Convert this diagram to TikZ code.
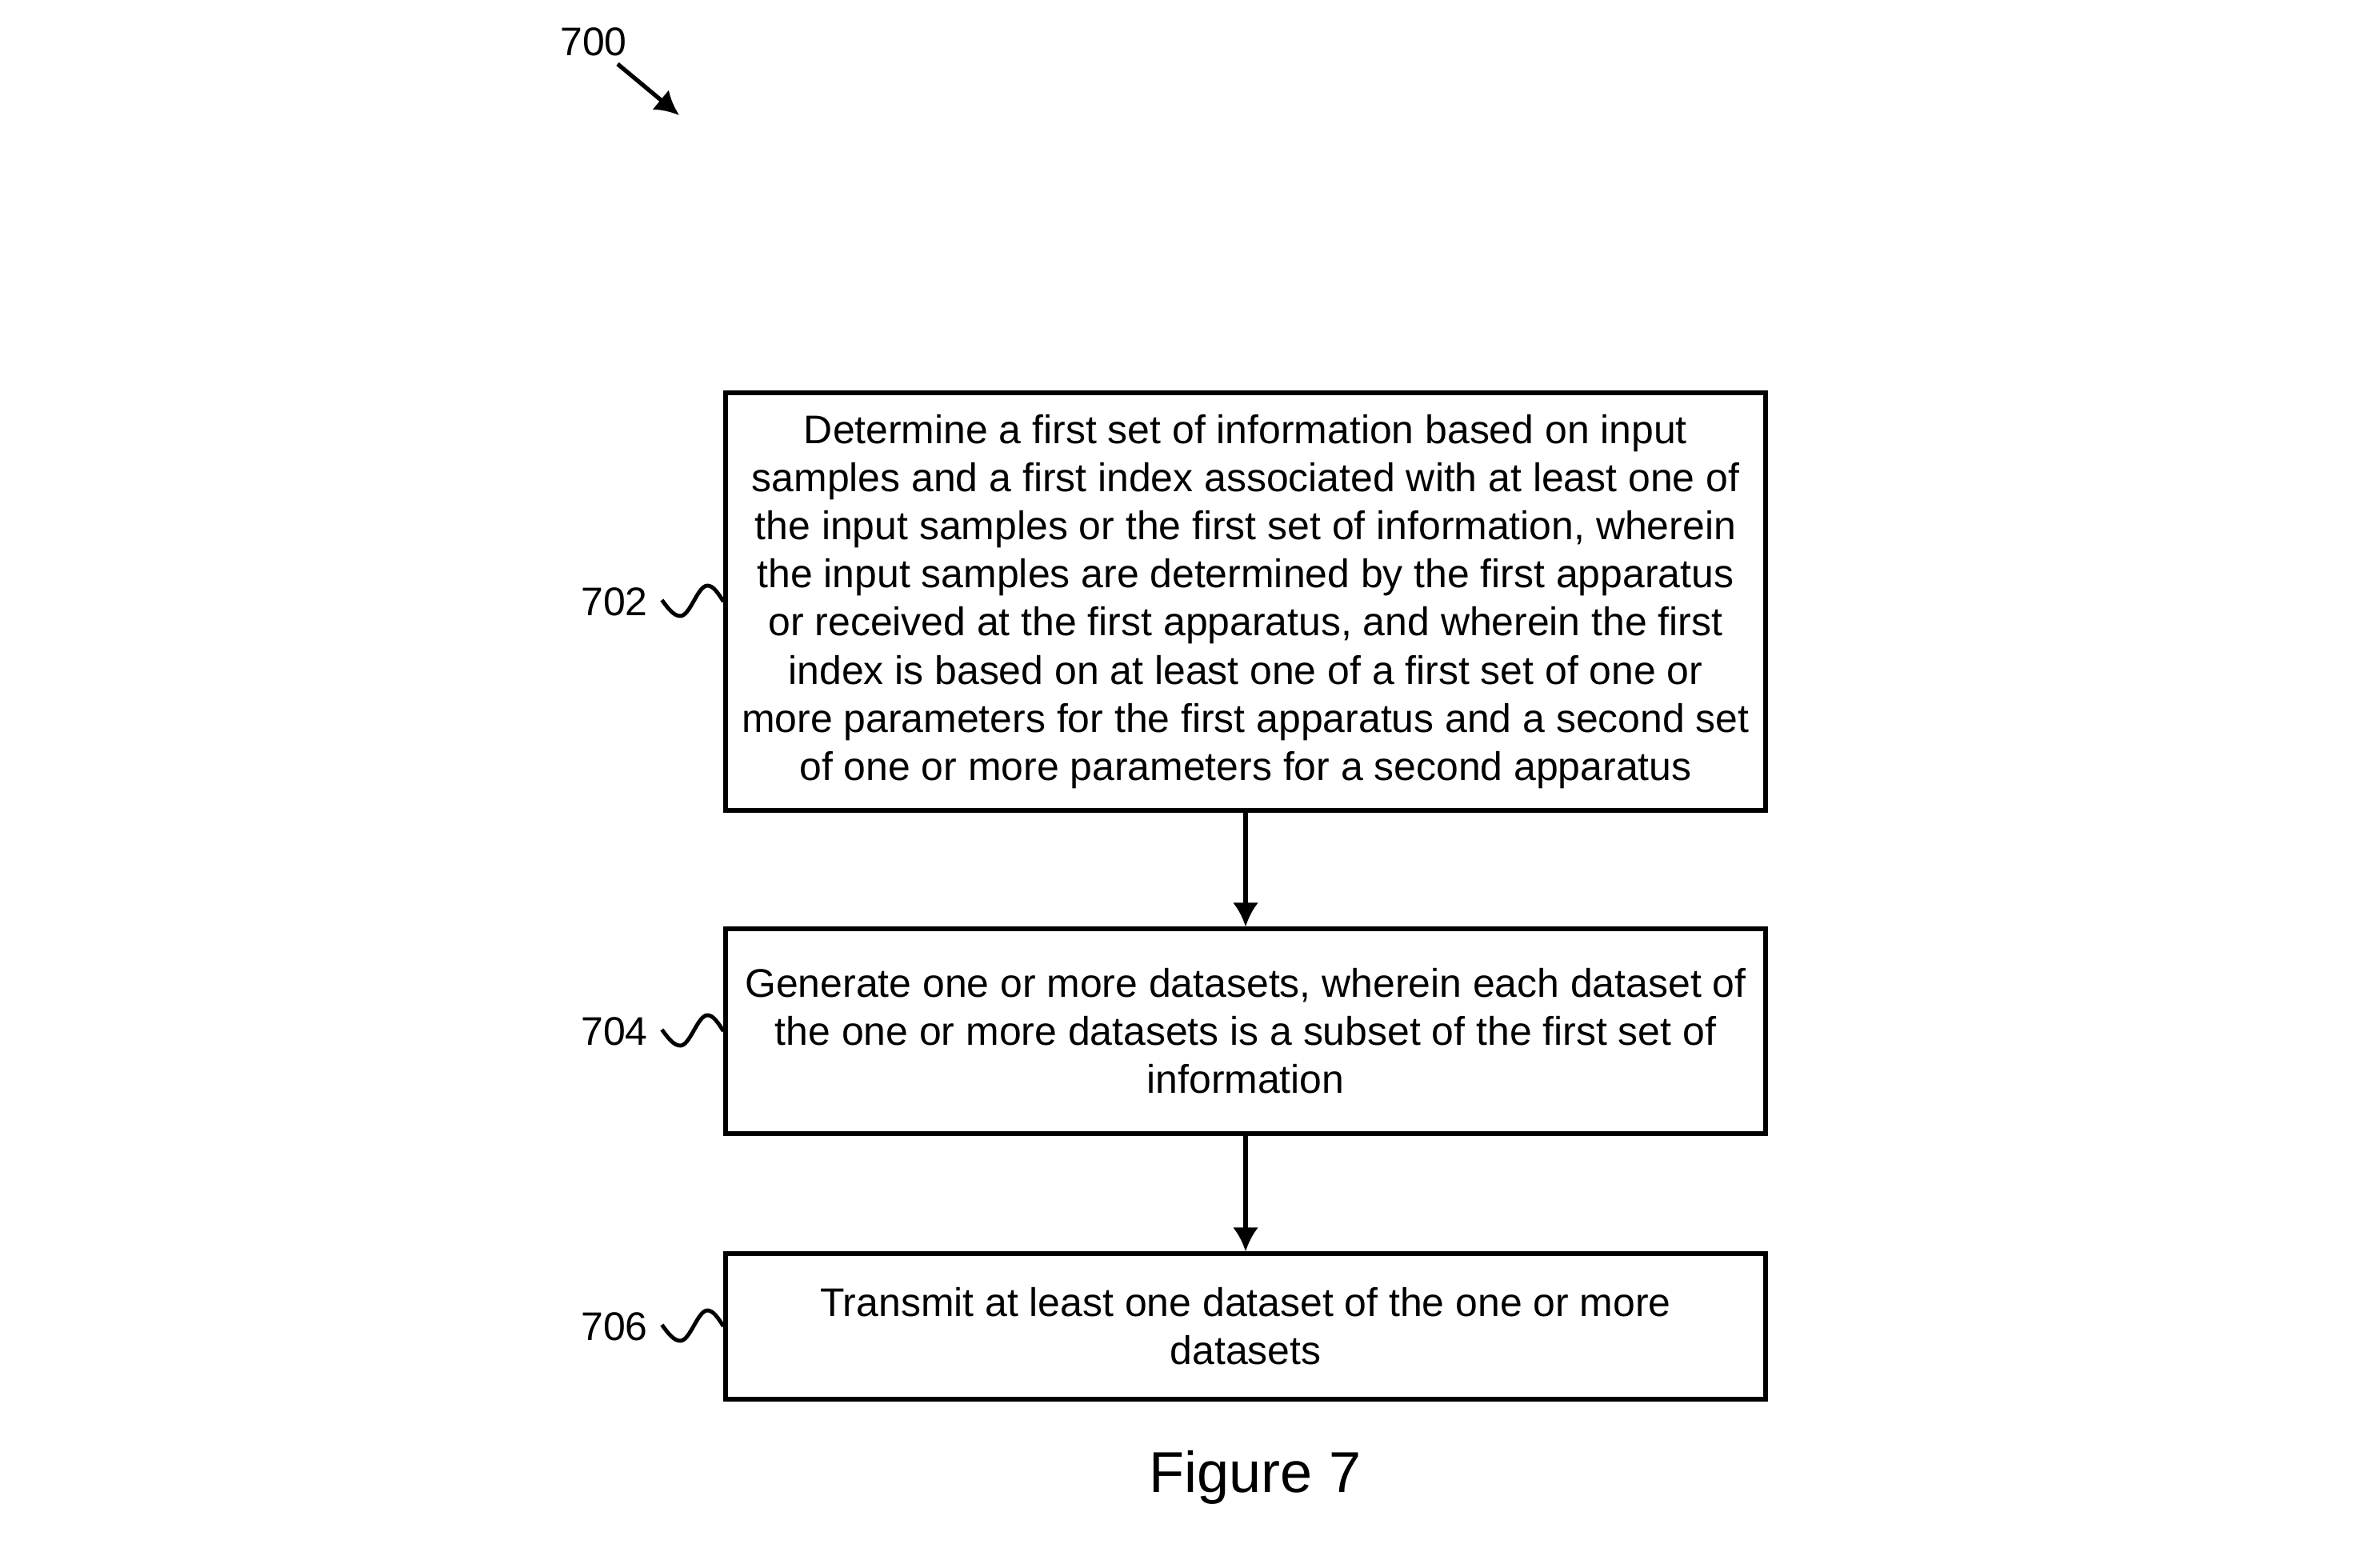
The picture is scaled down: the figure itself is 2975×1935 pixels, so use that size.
\documentclass[tikz,border=0pt]{standalone}
\usepackage{fontspec}
\setmainfont{Liberation Sans}
\usetikzlibrary{arrows.meta}

\begin{document}
\begin{tikzpicture}[x=0.1mm, y=-0.1mm, >={Latex[length=3mm,width=3.2mm]},
  font=\fontsize{14.2}{17.1}\selectfont]

  \tikzset{
    stepbox/.style={draw, line width=1.5pt, align=center, minimum width=13cm, inner sep=0pt},
    flow/.style={->, line width=1.5pt},
    squiggle/.style={line width=1.4pt},
  }

% page
\useasboundingbox (0,0) rectangle (2975,1935);

% figure number and its arrow
\node (lbl700) at (742,52) {700};
\coordinate (tail700) at (772,80);
\coordinate (tip700) at (849,144);
\draw[flow] (tail700) -- (tip700);

% the three steps
\node[stepbox, minimum height=5.22cm] (box702) at (1557,752) {%
  Determine a first set of information based on input\\
  samples and a first index associated with at least one of\\
  the input samples or the first set of information, wherein\\
  the input samples are determined by the first apparatus\\
  or received at the first apparatus, and wherein the first\\
  index is based on at least one of a first set of one or\\
  more parameters for the first apparatus and a second set\\
  of one or more parameters for a second apparatus};
\node[stepbox, minimum height=2.56cm] (box704) at (1557,1289) {%
  Generate one or more datasets, wherein each dataset of\\
  the one or more datasets is a subset of the first set of\\
  information};
\node[stepbox, minimum height=1.82cm] (box706) at (1557,1658) {%
  Transmit at least one dataset of the one or more\\
  datasets};

\draw[flow] (box702) -- (box704);
\draw[flow] (box704) -- (box706);

% step numbers with their squiggles
\foreach \n/\y in {702/752, 704/1289, 706/1658} {
  \node (lbl\n) at (768,\y) {\n};
  \draw[squiggle] (box\n.west) sin ++(-20,-20) cos ++(-17,19) sin ++(-17,19) cos ++(-23,-20);
}

\node (caption) at (1569,1847) {\fontsize{20.5}{24}\selectfont Figure 7};

\end{tikzpicture}
\end{document}
